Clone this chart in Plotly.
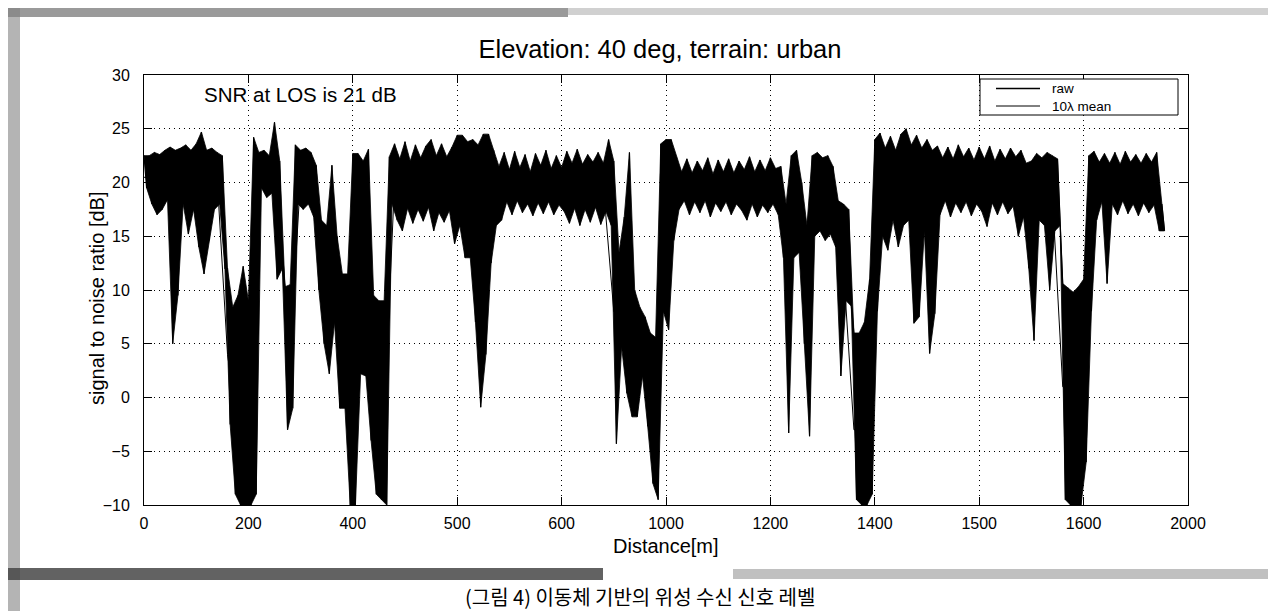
import plotly.graph_objects as go

# ---------------- data ----------------
# envelope of the raw SNR trace, sampled every 10 m starting at 0 m
raw_upper = [
    22.5, 22.5, 22.8, 22.6, 23.0, 23.3, 23.0, 23.2, 23.5, 23.0,   # 0-90
    23.6, 24.7, 23.0, 23.2, 22.8, 22.5, 12.0, 8.4, 9.5, 12.2,     # 100-190
    9.0, 24.2, 22.8, 23.0, 22.5, 25.6, 22.0, 10.3, 10.5, 23.5,    # 200-290
    23.0, 23.2, 22.8, 21.6, 16.5, 16.0, 21.6, 15.0, 11.5, 11.5,   # 300-390
    22.7, 22.7, 22.0, 23.1, 9.5, 9.0, 9.0, 22.4, 23.6, 22.2,      # 400-490
    23.8, 22.0, 23.5, 22.3, 23.4, 24.0, 22.5, 23.6, 22.4, 23.3,   # 500-590
    24.4, 24.4, 23.8, 24.0, 23.5, 24.5, 24.5, 23.0, 21.5, 22.8,   # 600-690
    21.2, 22.9, 21.4, 22.6, 21.0, 22.7, 21.6, 23.0, 21.3, 22.5,   # 700-790
    21.4, 22.9, 21.8, 23.1, 21.7, 22.6, 21.9, 22.8, 21.8, 24.0,   # 800-890
    22.0, 13.5, 16.8, 22.8, 10.0, 8.4, 7.5, 6.0, 5.6, 23.6,       # 900-990
    24.0, 24.0, 22.4, 21.0, 22.2, 20.9, 22.0, 21.1, 22.3, 20.8,   # 1000-1090
    22.1, 21.0, 22.2, 20.9, 22.0, 21.2, 22.4, 21.0, 22.1, 21.1,   # 1100-1190
    22.3, 21.3, 21.5, 18.0, 22.5, 23.0, 20.0, 16.0, 22.5, 22.8,   # 1200-1290
    22.3, 22.5, 21.5, 18.3, 18.0, 17.5, 6.0, 6.0, 7.0, 11.0,      # 1300-1390
    24.0, 24.6, 23.2, 24.3, 23.0, 24.5, 25.0, 23.5, 24.4, 23.2,   # 1400-1490
    24.0, 23.0, 23.4, 22.3, 23.3, 22.2, 23.5, 22.4, 23.2, 22.1,   # 1500-1590
    23.3, 22.2, 23.4, 22.0, 23.1, 22.2, 23.2, 22.4, 23.0, 21.8,   # 1600-1690
    22.0, 22.7, 22.3, 22.8, 22.5, 22.2, 10.6, 10.2, 9.8, 10.3,    # 1700-1790
    11.0, 22.5, 22.9, 21.9, 22.7, 21.8, 22.8, 21.7, 22.9, 21.9,   # 1800-1890
    22.6, 21.8, 22.7, 21.9, 22.8, 18.0,                           # 1900-1950
]
raw_lower = [
    19.5, 18.0, 17.0, 17.5, 18.4, 5.0, 9.5, 18.0, 15.2, 17.5,     # 0-90
    14.0, 11.5, 14.6, 17.5, 18.0, 12.0, -2.5, -9.0, -10.0, -10.0, # 100-190
    -10.0, -9.0, 19.5, 18.6, 19.0, 11.0, 12.0, -3.0, -1.0, 18.0,  # 200-290
    17.5, 18.0, 16.8, 10.0, 5.0, 2.2, 7.0, -1.0, -1.0, -10.0,     # 300-390
    -10.0, 2.2, 2.0, -4.0, -9.0, -9.5, -10.0, 18.0, 16.5, 15.5,   # 400-490
    17.6, 16.2, 17.5, 16.4, 17.7, 15.5, 17.2, 16.3, 17.4, 14.3,   # 500-590
    16.0, 13.0, 13.0, 7.0, -0.9, 4.0, 12.5, 16.0, 16.5, 18.2,     # 600-690
    17.0, 18.3, 17.2, 18.0, 16.9, 18.1, 17.1, 18.2, 17.0, 17.9,   # 700-790
    17.3, 16.2, 17.6, 16.0, 17.5, 16.3, 17.7, 16.1, 17.3, 16.0,   # 800-890
    -4.3, 4.7, 0.4, -1.8, -1.8, 2.0, -2.7, -8.0, -9.5, 8.0,       # 900-990
    6.3, 14.6, 17.5, 18.3, 17.0, 18.2, 17.2, 18.3, 16.8, 18.1,    # 1000-1090
    17.3, 18.2, 17.0, 18.0, 17.4, 16.5, 18.0, 16.8, 17.9, 17.2,   # 1100-1190
    18.0, 17.0, 13.0, -3.3, 13.0, 13.5, 5.0, -3.6, 15.0, 15.5,    # 1200-1290
    14.6, 15.2, 14.0, 2.0, 9.0, 8.5, -9.5, -10.0, -10.0, -9.0,    # 1300-1390
    8.0, 15.0, 13.7, 16.5, 14.0, 16.0, 16.5, 6.9, 7.5, 15.5,      # 1400-1490
    4.1, 7.8, 17.0, 18.3, 16.8, 18.1, 17.2, 18.2, 16.9, 18.0,     # 1500-1590
    17.3, 15.9, 18.1, 17.0, 18.2, 17.1, 17.8, 15.0, 16.8, 12.0,   # 1600-1690
    5.3, 16.5, 16.0, 10.0, 15.5, 16.0, -9.5, -10.0, -10.0, -10.0, # 1700-1790
    -6.0, 8.0, 16.5, 18.2, 10.6, 18.0, 17.0, 18.3, 17.1, 18.0,    # 1800-1890
    16.9, 18.1, 17.2, 17.9, 15.5, 15.5,                           # 1900-1950
]
# 10-lambda running mean, sampled every 20 m starting at 0 m
mean_snr = [
    20.5, 20.2, 20.6, 17.0, 20.0, 19.5, 19.8, 20.5, 4.0, -3.0,
    -2.0, 21.0, 21.0, 17.0, 4.0, 20.5, 20.0, 11.0, 11.0, 4.0,
    8.0, 12.0, -1.0, -2.0, 20.0, 20.0, 20.2, 20.3, 20.4, 20.0,
    20.5, 19.5, 10.0, 20.0, 19.8, 20.0, 20.0, 19.8, 20.0, 19.8,
    19.9, 19.6, 19.6, 19.7, 19.7, 8.0, 9.0, 5.0, 2.0, -3.0,
    15.0, 20.0, 20.0, 19.8, 19.6, 19.7, 19.6, 19.5, 19.6, 19.6,
    19.7, 17.0, 18.0, 13.0, 19.0, 18.5, 17.5, 12.0, -3.0, -3.0,
    17.0, 19.0, 19.5, 20.0, 15.0, 16.0, 20.2, 20.0, 20.0, 20.1,
    20.0, 20.2, 20.0, 19.7, 19.5, 14.0, 19.5, 19.0, 1.0, 0.0,
    2.0, 19.5, 18.0, 19.8, 20.0, 20.0, 19.8, 19.0,
]
x_tickvals = [0, 200, 400, 600, 800, 1000, 1200, 1400, 1600, 1800, 2000]
x_ticktext = ["0", "200", "400", "500", "600", "1000", "1200", "1400", "1500", "1600", "2000"]
y_tickvals = [-10, -5, 0, 5, 10, 15, 20, 25, 30]
legend_names = ["raw", "10\u03bb mean"]

ENV_STEP = 10
MEAN_STEP = 20

# raw trace: alternate peak / trough samples (peak at d, trough at d+5)
raw_x, raw_y = [], []
for i, (hi, lo) in enumerate(zip(raw_upper, raw_lower)):
    d = i * ENV_STEP
    raw_x += [d, d + ENV_STEP / 2]
    raw_y += [hi, lo]
# band between peaks and troughs (the dense raw samples print as solid black)
band_x = [i * ENV_STEP for i in range(len(raw_upper))] + \
         [i * ENV_STEP + ENV_STEP / 2 for i in range(len(raw_lower))][::-1]
band_y = raw_upper + raw_lower[::-1]
mean_x = [i * MEAN_STEP for i in range(len(mean_snr))]

# ---------------- figure ----------------
W, H = 1276, 611
L, R, T, B = 136, 96, 67, 114
PW, PH = W - L - R, H - T - B

def px(x):
    return (x - L) / PW

def py(y):
    return (H - B - y) / PH

FONT = "Arial, 'Liberation Sans', sans-serif"

fig = go.Figure()
fig.add_trace(go.Scatter(x=band_x, y=band_y, mode="lines", fill="toself",
                         fillcolor="black", line=dict(color="black", width=0.8),
                         name=legend_names[0], legendgroup="raw", showlegend=False,
                         hoverinfo="skip"))
fig.add_trace(go.Scatter(x=raw_x, y=raw_y, mode="lines", name=legend_names[0],
                         legendgroup="raw", line=dict(color="black", width=1.2)))
fig.add_trace(go.Scatter(x=mean_x, y=mean_snr, mode="lines", name=legend_names[1],
                         line=dict(color="black", width=1)))

axis_common = dict(showline=True, linecolor="black", linewidth=1, mirror="ticks",
                   ticks="inside", ticklen=8, tickcolor="black", tickwidth=1,
                   showgrid=True, gridcolor="black", gridwidth=1, griddash="1px,4px",
                   zeroline=False, tickfont=dict(family=FONT, size=16, color="black"))

fig.update_xaxes(range=[0, 2000], tickmode="array", tickvals=x_tickvals, ticktext=x_ticktext,
                 ticklabelstandoff=4, **axis_common)
fig.update_yaxes(range=[-10, 30], tickmode="array", tickvals=y_tickvals,
                 ticklabelstandoff=10, **axis_common)

shapes = []
# legend box (white, covering the grid) with its two line samples
shapes.append(dict(type="rect", xref="paper", yref="paper", layer="above",
                   x0=px(972), x1=px(1170), y0=py(107), y1=py(71),
                   fillcolor="white", line=dict(color="black", width=1)))
shapes.append(dict(type="line", xref="paper", yref="paper", layer="above",
                   x0=px(988), x1=px(1032), y0=py(80.5), y1=py(80.5),
                   line=dict(color="black", width=1.6)))
shapes.append(dict(type="line", xref="paper", yref="paper", layer="above",
                   x0=px(988), x1=px(1032), y0=py(98), y1=py(98),
                   line=dict(color="black", width=1)))

# scanner border artefacts
def band(x0, x1, y0, y1, color):
    shapes.append(dict(type="rect", xref="paper", yref="paper", layer="below",
                       x0=px(x0), x1=px(x1), y0=py(y1), y1=py(y0),
                       fillcolor=color, line=dict(width=0)))
band(0, 560, 0, 9, "rgba(120,120,120,0.75)")
band(560, 1276, 0, 7, "rgba(170,170,170,0.55)")
band(0, 12, 0, 611, "rgba(130,130,130,0.6)")
band(0, 595, 560, 572, "rgba(70,70,70,0.85)")
band(725, 1276, 561, 571, "rgba(150,150,150,0.6)")
band(0, 520, 605, 611, "rgba(60,60,60,0.85)")
band(535, 1276, 605, 611, "rgba(150,150,150,0.6)")

annotations = [
    dict(text="SNR at LOS is 21 dB", x=111, y=28.2, xref="x", yref="y",
         xanchor="left", yanchor="middle", showarrow=False,
         font=dict(family=FONT, size=20.5, color="black")),
    dict(text=legend_names[0] + "<br>" + legend_names[1], x=px(1043), y=py(89.3),
         xref="paper", yref="paper", xanchor="left", yanchor="middle", align="left",
         showarrow=False, borderpad=0,
         font=dict(family=FONT, size=13.5, color="black")),
    dict(text="signal to noise ratio [dB]", x=px(89), y=py(291), xref="paper",
         yref="paper", xanchor="center", yanchor="middle", textangle=-90,
         showarrow=False, font=dict(family=FONT, size=20, color="black")),
    dict(text="Distance[m]", x=px(658), y=py(538), xref="paper", yref="paper",
         xanchor="center", yanchor="middle", showarrow=False,
         font=dict(family=FONT, size=20, color="black")),
    dict(text="(그림 4) 이동체 기반의 위성 수신 신호 레벨", x=px(632), y=py(588),
         xref="paper", yref="paper", xanchor="center", yanchor="middle",
         showarrow=False, borderpad=0,
         font=dict(family="'Noto Sans CJK KR', 'Noto Sans', sans-serif", size=20,
                   color="black")),
]

fig.update_layout(
    width=W, height=H,
    margin=dict(l=L, r=R, t=T, b=B, autoexpand=False),
    paper_bgcolor="white", plot_bgcolor="white",
    font=dict(family=FONT, color="black"),
    title=dict(text="Elevation: 40 deg, terrain: urban", x=px(652), xanchor="center",
               xref="paper", y=1 - 41 / H, yref="container", yanchor="middle",
               font=dict(family=FONT, size=25.5, color="black")),
    showlegend=False,
    shapes=shapes,
    annotations=annotations,
)

fig.write_html("out.html")
